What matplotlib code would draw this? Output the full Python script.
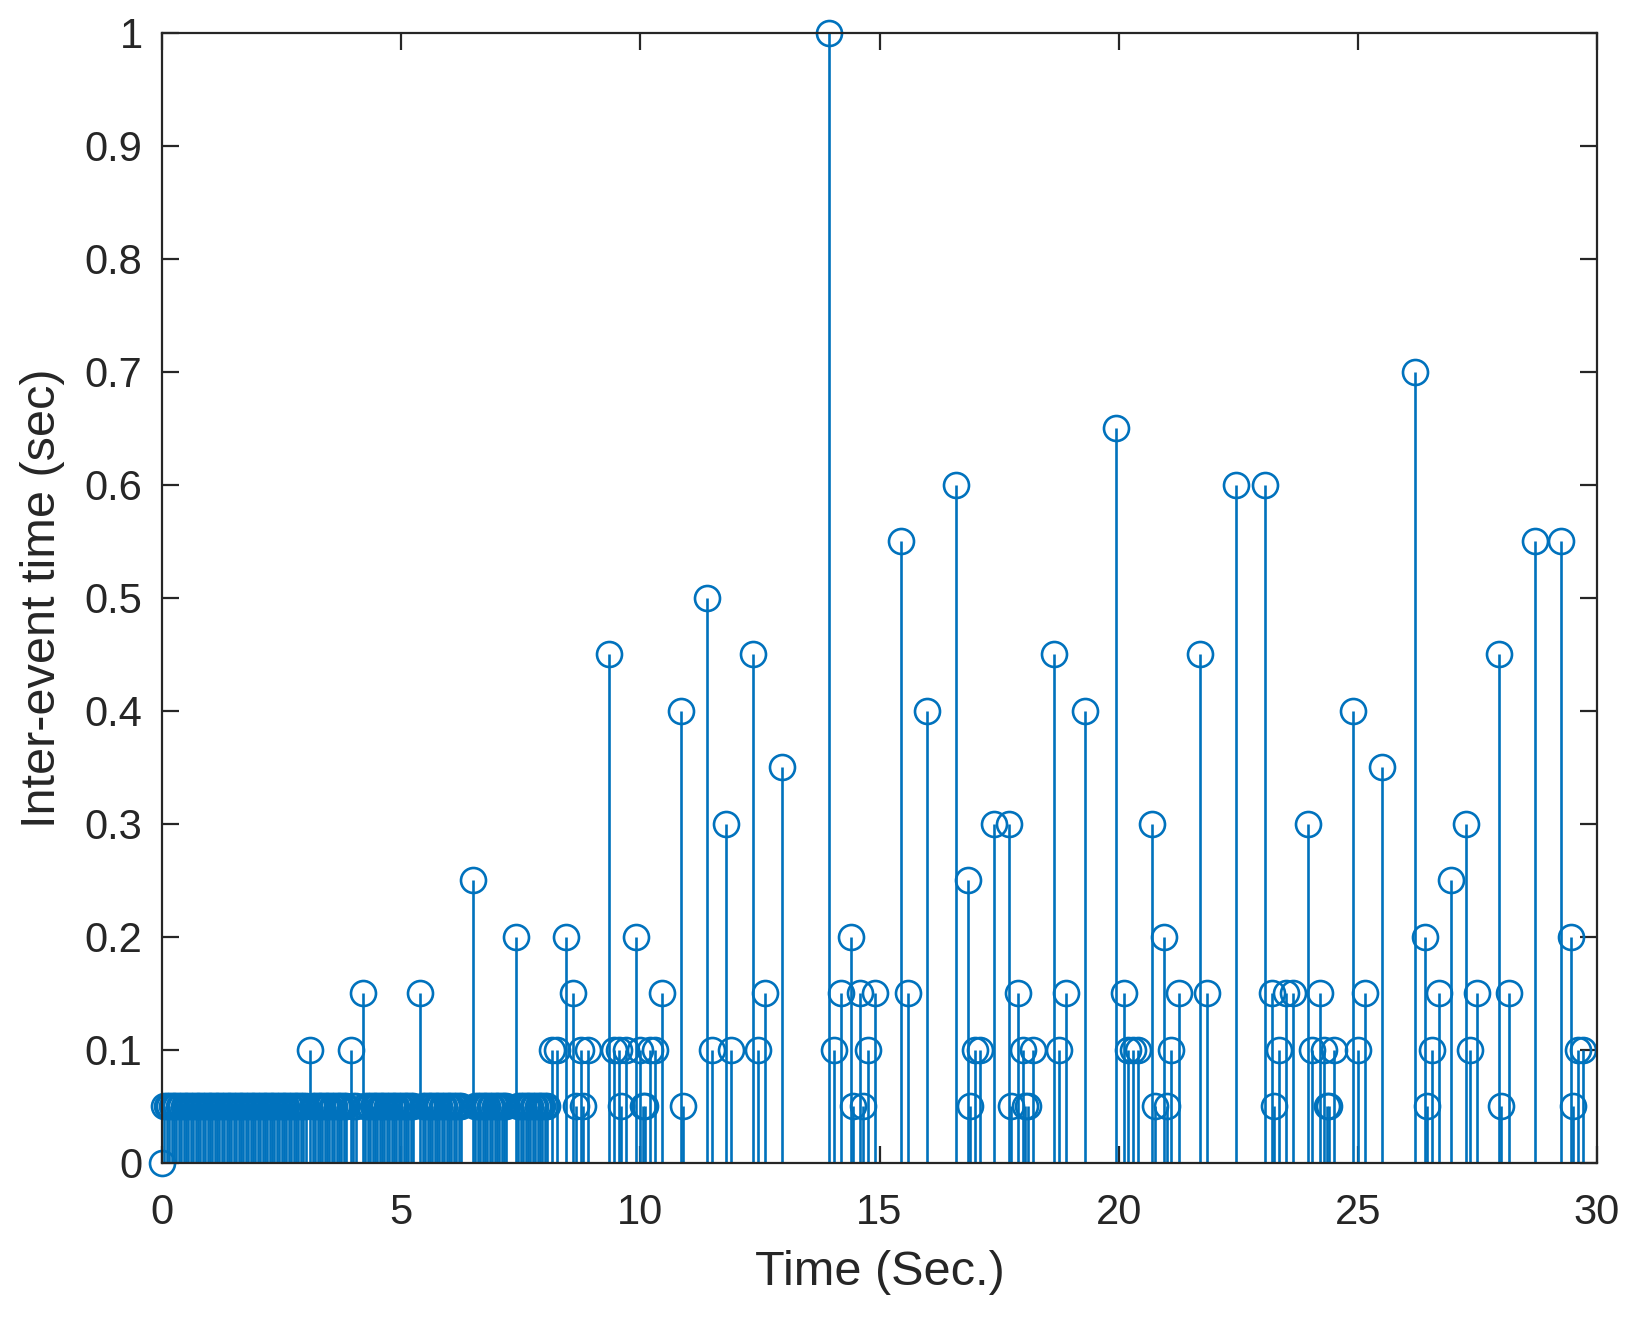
import numpy as np
import matplotlib
matplotlib.use('Agg')
import matplotlib.pyplot as plt


"""
Inter-event times of a detected event train, drawn as a stem plot
"""

# inter-event times (sec), in event order; the first event has no predecessor
first_gap = [0.0]

# dense burst at the start: mostly 0.05 s spacing with a few longer pauses
burst_gaps = ([0.05] * 60 + [0.1] + [0.05] * 15 + [0.1] + [0.05] * 2 + [0.15]
              + [0.05] * 21 + [0.15] + [0.05] * 17 + [0.25] + [0.05] * 14
              + [0.2] + [0.05] * 13 + [0.1, 0.1])

# sparse tail after ~8.3 s
tail_gaps = [0.2, 0.15, 0.05, 0.1, 0.05, 0.1, 0.45, 0.1, 0.1, 0.05,
             0.1, 0.2, 0.1, 0.05, 0.05, 0.1, 0.1, 0.15, 0.4, 0.05,
             0.5, 0.1, 0.3, 0.1, 0.45, 0.1, 0.15, 0.35, 1.0, 0.1,
             0.15, 0.2, 0.05, 0.15, 0.05, 0.1, 0.15, 0.55, 0.15, 0.4,
             0.6, 0.25, 0.05, 0.1, 0.1, 0.3, 0.3, 0.05, 0.15, 0.1,
             0.05, 0.05, 0.1, 0.45, 0.1, 0.15, 0.4, 0.65, 0.15, 0.1,
             0.1, 0.1, 0.3, 0.05, 0.2, 0.05, 0.1, 0.15, 0.45, 0.15,
             0.6, 0.6, 0.15, 0.05, 0.1, 0.15, 0.15, 0.3, 0.1, 0.15,
             0.1, 0.05, 0.05, 0.1, 0.4, 0.1, 0.15, 0.35, 0.7, 0.2,
             0.05, 0.1, 0.15, 0.25, 0.3, 0.1, 0.15, 0.45, 0.05, 0.15,
             0.55, 0.55, 0.2, 0.05, 0.1, 0.1]

x_ticks = [0, 5, 10, 15, 20, 25, 30]
y_ticks = [0, 0.1, 0.2, 0.3, 0.4, 0.5, 0.6, 0.7, 0.8, 0.9, 1]
y_ticklabels = ['0', '0.1', '0.2', '0.3', '0.4', '0.5', '0.6', '0.7', '0.8', '0.9', '1']


if __name__ == '__main__':

    gaps = np.array(first_gap + burst_gaps + tail_gaps)
    # event time = start time plus all gaps up to that event
    t_event = np.cumsum(gaps)

    plt.rcParams['font.family'] = ['Liberation Sans', 'DejaVu Sans']
    blue = '#0072BD'
    dark = '#262626'

    fig = plt.figure(figsize=(16.37, 13.20), dpi=100)
    ax = fig.add_axes([0.099, 0.119, 0.8766, 0.856])

    ax.vlines(t_event, 0, gaps, colors=blue, linewidth=1.9, zorder=2)
    ax.plot(t_event, gaps, 'o', ms=18, mfc='none', mec=blue, mew=1.9,
            clip_on=False, zorder=3)

    ax.set_xlim(0, 30)
    ax.set_ylim(0, 1)
    ax.set_xticks(x_ticks)
    ax.set_yticks(y_ticks)
    ax.set_yticklabels(y_ticklabels)

    ax.tick_params(direction='in', length=12, width=1.6, colors=dark,
                   labelsize=30, top=True, right=True)
    ax.tick_params(axis='y', pad=14)
    ax.tick_params(axis='x', pad=22)
    for sp in ax.spines.values():
        sp.set_color(dark)
        sp.set_linewidth(1.6)
        sp.set_zorder(4)

    ax.set_xlabel('Time (Sec.)', fontsize=35, color=dark, labelpad=12)
    ax.set_ylabel('Inter-event time (sec)', fontsize=35, color=dark, labelpad=14)

    plt.savefig('out.png', dpi=100)
    plt.close()
